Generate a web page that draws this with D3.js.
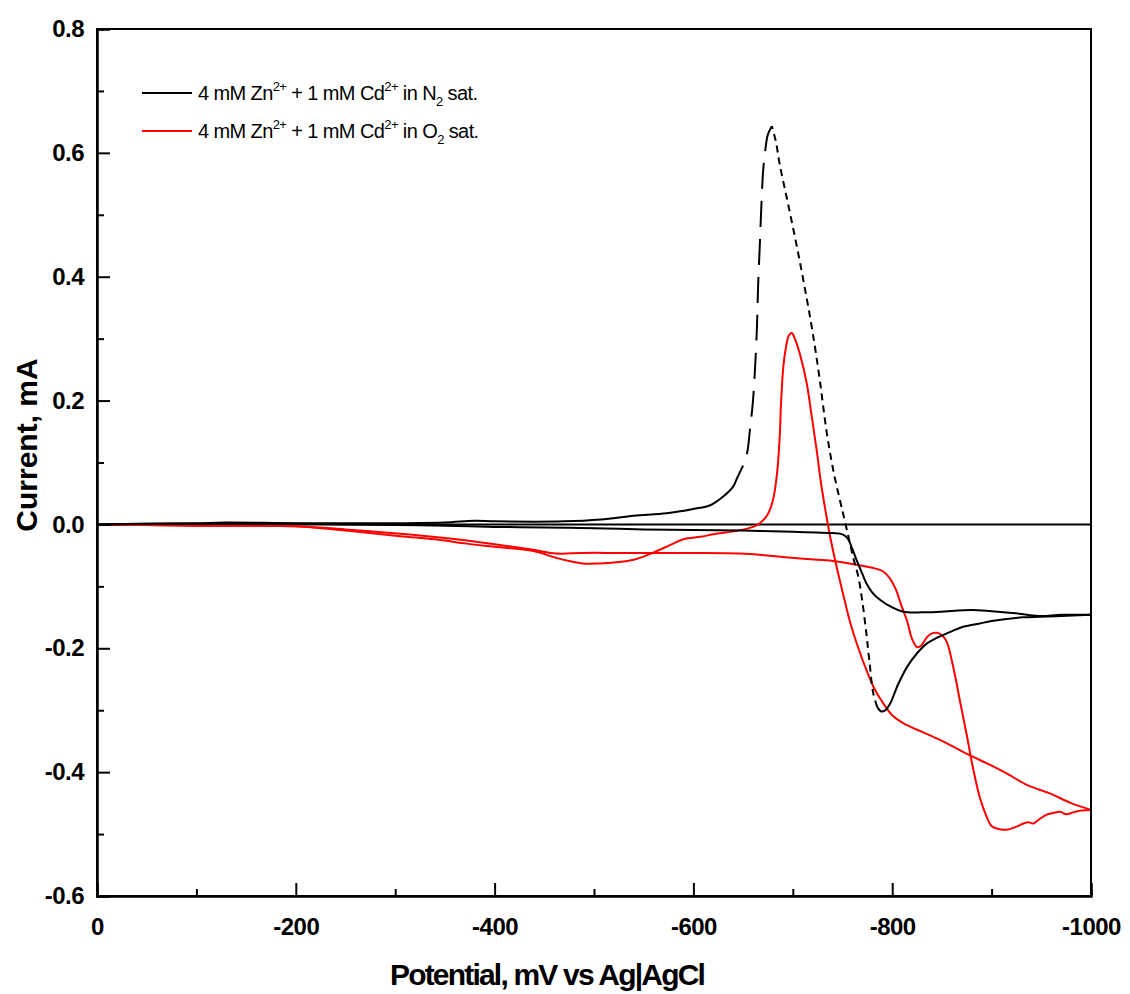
<!DOCTYPE html>
<html>
<head>
<meta charset="utf-8">
<script src="https://cdn.jsdelivr.net/npm/d3@7"></script>
<style>
  body { margin: 0; background: #fff; }
  text { font-family: "Liberation Sans", Arial, sans-serif; }
</style>
</head>
<body>
<div id="chart"></div>
<script>
// Axis ticks
const xMajorTicks = [0, -200, -400, -600, -800, -1000];
const xMinorTicks = [-100, -300, -500, -700, -900];
const yMajorTicks = [-0.6, -0.4, -0.2, 0.0, 0.2, 0.4, 0.6, 0.8];
const yMinorTicks = [-0.5, -0.3, -0.1, 0.1, 0.3, 0.5, 0.7];

// N2 saturated: cathodic sweep 0 -> -1000 mV  [potential mV, current mA]
const n2Forward = [
  [0, 0.000], [-50, 0.001], [-100, 0.001], [-150, 0.001], [-200, 0.001],
  [-250, 0.000], [-300, -0.001], [-350, -0.002], [-400, -0.004], [-450, -0.005],
  [-500, -0.006], [-550, -0.008], [-600, -0.009], [-650, -0.010], [-700, -0.012],
  [-740, -0.014], [-750, -0.016], [-755, -0.022], [-760, -0.040], [-764, -0.057],
  [-770, -0.080], [-774, -0.095], [-780, -0.110], [-788, -0.122], [-800, -0.134],
  [-811, -0.141], [-830, -0.142], [-848, -0.141], [-880, -0.138], [-900, -0.140],
  [-922, -0.143], [-948, -0.148], [-970, -0.146], [-1000, -0.146]
];
// N2 return sweep, -1000 mV up to the reduction minimum
const n2Return = [
  [-1000, -0.146], [-970, -0.148], [-932, -0.150], [-900, -0.156], [-888, -0.160],
  [-870, -0.166], [-855, -0.176], [-845, -0.183], [-835, -0.192], [-825, -0.208],
  [-815, -0.230], [-806, -0.258], [-798, -0.289], [-793, -0.300], [-789, -0.302],
  [-785, -0.295]
];
// N2 stripping peak, rising side (short dashes in the original)
const n2PeakRise = [
  [-785, -0.295], [-781, -0.273], [-777, -0.220], [-774, -0.176], [-770, -0.125],
  [-766, -0.085], [-761, -0.055], [-756, -0.020], [-752, 0.008], [-748, 0.035],
  [-741, 0.085], [-734, 0.150], [-727, 0.235], [-720, 0.310], [-714, 0.365],
  [-707, 0.425], [-700, 0.481], [-694, 0.527], [-687, 0.580], [-683, 0.618],
  [-679, 0.643]
];
// N2 stripping peak, falling side (long dashes)
const n2PeakFall = [
  [-679, 0.643], [-675, 0.630], [-672, 0.600], [-670, 0.567], [-667, 0.459],
  [-665, 0.380], [-663.7, 0.309], [-660, 0.201], [-657, 0.155], [-654, 0.115],
  [-650, 0.095]
];
// N2 tail back to 0 mV
const n2Tail = [
  [-650, 0.095], [-644, 0.075], [-640, 0.061], [-630, 0.045], [-617, 0.031],
  [-600, 0.025], [-573, 0.018], [-540, 0.014], [-507, 0.008], [-470, 0.005],
  [-400, 0.005], [-380, 0.006], [-350, 0.003], [-300, 0.002], [-200, 0.002],
  [-130, 0.003], [-100, 0.002], [-50, 0.001], [0, 0.000]
];

// O2 saturated: cathodic sweep 0 -> -1000 mV
const o2Forward = [
  [0, 0.000], [-50, -0.001], [-100, -0.002], [-150, -0.002], [-200, -0.003],
  [-250, -0.008], [-305, -0.015], [-350, -0.022], [-372, -0.026], [-400, -0.032],
  [-439, -0.041], [-462, -0.047], [-489, -0.046], [-523, -0.046], [-556, -0.046],
  [-600, -0.046], [-647, -0.047], [-680, -0.051], [-714, -0.056], [-740, -0.059],
  [-764, -0.065], [-780, -0.070], [-791, -0.076], [-798, -0.088], [-804, -0.106],
  [-809, -0.130], [-815, -0.156], [-820, -0.185], [-825, -0.198], [-829, -0.196],
  [-835, -0.182], [-840, -0.176], [-845, -0.175], [-850, -0.179], [-855, -0.190],
  [-860, -0.220], [-864, -0.250], [-868, -0.284], [-875, -0.340], [-881, -0.391],
  [-888, -0.440], [-895, -0.472], [-900, -0.487], [-905, -0.491], [-915, -0.493],
  [-925, -0.488], [-932, -0.483], [-937, -0.481], [-942, -0.483], [-948, -0.476],
  [-955, -0.469], [-962, -0.466], [-969, -0.464], [-975, -0.468], [-982, -0.465],
  [-990, -0.462], [-1000, -0.461]
];
// O2 return sweep -1000 -> 0 mV
const o2Return = [
  [-1000, -0.461], [-980, -0.450], [-958, -0.434], [-936, -0.421], [-915, -0.402],
  [-898, -0.388], [-881, -0.375], [-865, -0.362], [-848, -0.348], [-830, -0.335],
  [-811, -0.321], [-800, -0.308], [-791, -0.289], [-782, -0.265], [-774, -0.235],
  [-766, -0.200], [-758, -0.160], [-751, -0.115], [-744, -0.068], [-737, -0.015],
  [-734, 0.012], [-729, 0.060], [-724, 0.120], [-719, 0.175], [-714, 0.228],
  [-707, 0.276], [-702, 0.300], [-699, 0.309], [-696, 0.305], [-693, 0.285],
  [-690.5, 0.255], [-688, 0.190], [-687, 0.147], [-684, 0.080], [-680, 0.039],
  [-675, 0.017], [-667, 0.002], [-660, -0.004], [-645, -0.010], [-620, -0.016],
  [-607, -0.020], [-590, -0.024], [-573, -0.036], [-556, -0.048], [-540, -0.057],
  [-523, -0.061], [-505, -0.063], [-489, -0.063], [-475, -0.059], [-462, -0.054],
  [-439, -0.043], [-400, -0.036], [-372, -0.031], [-340, -0.024], [-305, -0.019],
  [-250, -0.010], [-200, -0.003], [-150, -0.002], [-100, -0.002], [-50, -0.001],
  [0, -0.001]
];

// Size and margins
const width = 1130;
const height = 994;
const margin = { top: 29, right: 39, bottom: 98, left: 97 };

const svg = d3.select("#chart")
  .append("svg")
  .attr("width", width)
  .attr("height", height);

// Scales
const x = d3.scaleLinear()
  .domain([0, -1000])
  .range([margin.left, width - margin.right]);

const y = d3.scaleLinear()
  .domain([-0.6, 0.8])
  .range([height - margin.bottom, margin.top]);

const line = d3.line()
  .x(d => x(d[0]))
  .y(d => y(d[1]))
  .curve(d3.curveCatmullRom.alpha(0.5));

// Zero line
svg.append("line")
  .attr("x1", x(0)).attr("x2", x(-1000))
  .attr("y1", y(0)).attr("y2", y(0))
  .attr("stroke", "#000")
  .attr("stroke-width", 2);

// Curves
const curves = [
  { data: o2Forward, color: "#ff0000", dash: null },
  { data: o2Return, color: "#ff0000", dash: null },
  { data: n2Forward, color: "#000", dash: null },
  { data: n2Return, color: "#000", dash: null },
  { data: n2PeakRise, color: "#000", dash: "7,5" },
  { data: n2PeakFall, color: "#000", dash: "26,12" },
  { data: n2Tail, color: "#000", dash: null }
];

svg.append("g")
  .selectAll("path")
  .data(curves)
  .enter().append("path")
  .attr("d", d => line(d.data))
  .attr("fill", "none")
  .attr("stroke", d => d.color)
  .attr("stroke-width", 2)
  .attr("stroke-dasharray", d => d.dash);

// Frame
svg.append("rect")
  .attr("x", x(0))
  .attr("y", y(0.8))
  .attr("width", x(-1000) - x(0))
  .attr("height", y(-0.6) - y(0.8))
  .attr("fill", "none")
  .attr("stroke", "#000")
  .attr("stroke-width", 2);

// Bottom axis
svg.append("g")
  .attr("transform", `translate(0,${y(-0.6)})`)
  .call(d3.axisBottom(x).tickValues(xMajorTicks).tickSize(-13).tickPadding(22)
    .tickFormat(d => String(d)));

svg.append("g")
  .attr("transform", `translate(0,${y(-0.6)})`)
  .call(d3.axisBottom(x).tickValues(xMinorTicks).tickSize(-7).tickFormat(""));

// Left axis
svg.append("g")
  .attr("transform", `translate(${x(0)},0)`)
  .call(d3.axisLeft(y).tickValues(yMajorTicks).tickSize(-13).tickPadding(13)
    .tickFormat(d => d.toFixed(1)));

svg.append("g")
  .attr("transform", `translate(${x(0)},0)`)
  .call(d3.axisLeft(y).tickValues(yMinorTicks).tickSize(-7).tickFormat(""));

svg.selectAll(".domain").attr("stroke-width", 2);
svg.selectAll(".tick line").attr("stroke-width", 2);
svg.selectAll(".tick text")
  .attr("font-family", "'Liberation Sans', Arial, sans-serif")
  .attr("font-weight", "bold")
  .attr("font-size", 24)
  .attr("letter-spacing", "-0.5px")
  .attr("fill", "#000");

// Axis titles
svg.append("text")
  .attr("x", 547)
  .attr("y", 985)
  .attr("text-anchor", "middle")
  .attr("font-weight", "bold")
  .attr("font-size", 30)
  .attr("letter-spacing", "-1.8px")
  .text("Potential, mV vs Ag|AgCl");

svg.append("text")
  .attr("transform", "translate(37,445) rotate(-90)")
  .attr("text-anchor", "middle")
  .attr("font-weight", "bold")
  .attr("font-size", 30)
  .text("Current, mA");

// Legend
const legendItems = [
  { color: "#000", gas: "N" },
  { color: "#ff0000", gas: "O" }
];

const legend = svg.append("g")
  .selectAll("g")
  .data(legendItems)
  .enter().append("g")
  .attr("transform", (d, i) => `translate(142,${93 + i * 38})`);

legend.append("line")
  .attr("x1", 0).attr("x2", 50)
  .attr("stroke", d => d.color)
  .attr("stroke-width", 2);

const label = legend.append("text")
  .attr("x", 56)
  .attr("y", 7)
  .attr("font-size", 20)
  .attr("letter-spacing", "-0.6px");

label.append("tspan").text("4 mM Zn");
label.append("tspan").attr("font-size", 13).attr("dy", -9).text("2+");
label.append("tspan").attr("dy", 9).text(" + 1 mM Cd");
label.append("tspan").attr("font-size", 13).attr("dy", -9).text("2+");
label.append("tspan").attr("dy", 9).text(" in ");
label.each(function(d) {
  const t = d3.select(this);
  t.append("tspan").text(d.gas);
  t.append("tspan").attr("font-size", 13).attr("dy", 6).text("2");
  t.append("tspan").attr("dy", -6).text(" sat.");
});
</script>
</body>
</html>
